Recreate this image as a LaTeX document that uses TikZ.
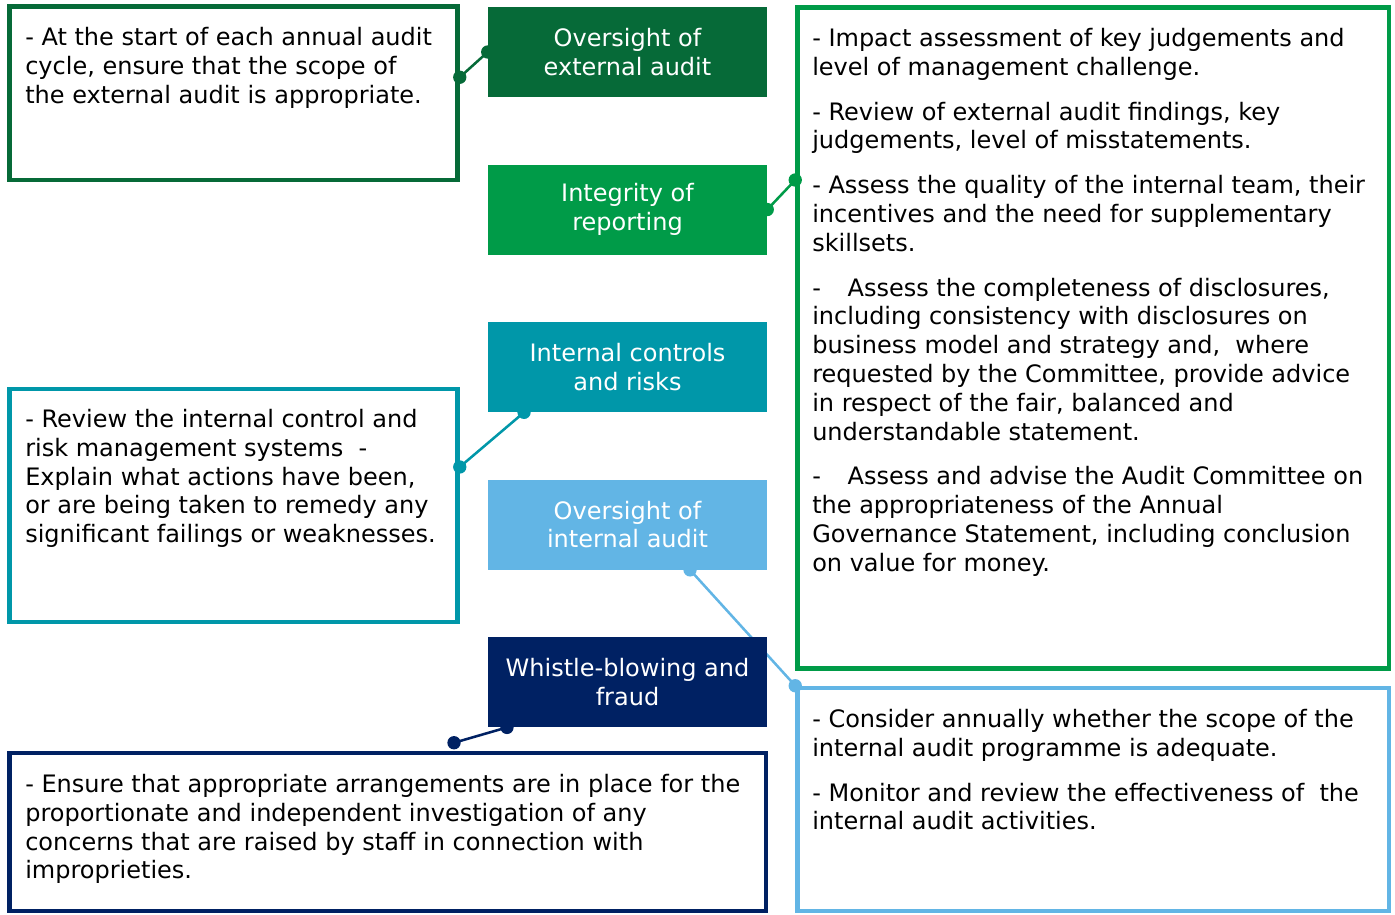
\documentclass[tikz,border=0pt]{standalone}
\usepackage{fontspec}
\setmainfont{DejaVu Sans}
\usetikzlibrary{positioning}
\pgfdeclarelayer{background}
\pgfsetlayers{background,main}
\definecolor{extgreen}{RGB}{6,106,56}
\definecolor{repgreen}{RGB}{0,155,72}
\definecolor{ctrlteal}{RGB}{0,151,169}
\definecolor{intblue}{RGB}{98,181,229}
\definecolor{fraudnavy}{RGB}{0,33,99}

\begin{document}
\begin{tikzpicture}[x=0.75pt,y=-0.75pt,node distance=50.25pt,
  every node/.style={font=\fontsize{18pt}{21.6pt}\selectfont},
  topic/.style={fill=#1,text=white,minimum width=209.25pt,minimum height=67.5pt,align=center,inner sep=0pt},
  frame/.style={draw=#1,line width=3.4pt,inner sep=0pt},
  notes/.style={anchor=north west,align=left,inner sep=0pt},
  link/.style={draw=#1,line width=1.9pt},
  dot/.style={circle,fill=#1,inner sep=0pt,minimum size=10pt}]
  \useasboundingbox (0,0) rectangle (1395,914);

  \node[topic=extgreen]  (ext)    at (627.5,52)     {Oversight of\\external audit};
  \node[topic=repgreen]  (rep)    [below=of ext]    {Integrity of\\reporting};
  \node[topic=ctrlteal]  (ctrl)   [below=of rep]    {Internal controls\\and risks};
  \node[topic=intblue]   (intaud) [below=of ctrl]   {Oversight of\\internal audit};
  \node[topic=fraudnavy] (fraud)  [below=of intaud] {Whistle-blowing and\\fraud};

  \node[frame=extgreen,minimum width=336pt,minimum height=130pt]      (extbox)   at (233.5,93.25)  {};
  \node[frame=repgreen,minimum width=443.6pt,minimum height=495.75pt] (repbox)   at (1093.25,338)  {};
  \node[frame=ctrlteal,minimum width=336pt,minimum height=174.75pt]   (ctrlbox)  at (233.5,505.5)  {};
  \node[frame=intblue,minimum width=443.6pt,minimum height=167.25pt]  (intbox)   at (1093.25,799.5) {};
  \node[frame=fraudnavy,minimum width=567.4pt,minimum height=118.5pt] (fraudbox) at (387.75,832)   {};

  \node[notes] (exttext) at (25,27) {- At the start of each annual audit\\
    cycle, ensure that the scope of\\
    the external audit is appropriate.};
  \node[notes] (reptext) at (812,28) {- Impact assessment of key judgements and\\
    level of management challenge.\\[12pt]
    - Review of external audit findings, key\\
    judgements, level of misstatements.\\[12pt]
    - Assess the quality of the internal team, their\\
    incentives and the need for supplementary\\
    skillsets.\\[12pt]
    -\hspace{20pt}Assess the completeness of disclosures,\\
    including consistency with disclosures on\\
    business model and strategy and,\ \ where\\
    requested by the Committee, provide advice\\
    in respect of the fair, balanced and\\
    understandable statement.\\[12pt]
    -\hspace{20pt}Assess and advise the Audit Committee on\\
    the appropriateness of the Annual\\
    Governance Statement, including conclusion\\
    on value for money.};
  \node[notes] (ctrltext) at (25,409) {- Review the internal control and\\
    risk management systems\ \ -\\
    Explain what actions have been,\\
    or are being taken to remedy any\\
    significant failings or weaknesses.};
  \node[notes] (inttext) at (812,709) {- Consider annually whether the scope of the\\
    internal audit programme is adequate.\\[12pt]
    - Monitor and review the effectiveness of\ \ the\\
    internal audit activities.};
  \node[notes] (fraudtext) at (25,774) {- Ensure that appropriate arrangements are in place for the\\
    proportionate and independent investigation of any\\
    concerns that are raised by staff in connection with\\
    improprieties.};

  \begin{pgfonlayer}{background}
    \draw[link=extgreen] ([yshift=12pt]extbox.east) node[dot=extgreen] {}
      -- (ext.west) node[dot=extgreen] {};
    \draw[link=repgreen] (rep.east) node[dot=repgreen] {}
      -- ([yshift=118.5pt]repbox.west) node[dot=repgreen] {};
    \draw[link=ctrlteal] ([xshift=-77.6pt]ctrl.south) node[dot=ctrlteal] {}
      -- ([yshift=28.9pt]ctrlbox.east) node[dot=ctrlteal] {};
    \draw[link=intblue] ([xshift=46.9pt]intaud.south) node[dot=intblue] {}
      -- (intbox.north west) node[dot=intblue] {};
    \draw[link=fraudnavy] ([xshift=-90.4pt]fraud.south) node[dot=fraudnavy] {}
      -- ([shift={(49.7pt,6pt)}]fraudbox.north) node[dot=fraudnavy] {};
  \end{pgfonlayer}
\end{tikzpicture}
\end{document}
